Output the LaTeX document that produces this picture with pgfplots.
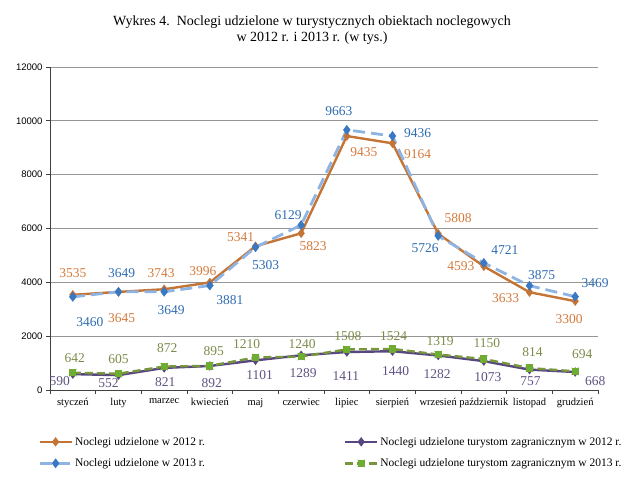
\documentclass[border=0pt]{standalone}
\usepackage{fontspec}
\setmainfont{Liberation Serif}
\setsansfont{Liberation Sans}
\usepackage{pgfplots}
\pgfplotsset{compat=1.18}
\definecolor{orL}{RGB}{196,116,52}
\definecolor{orT}{RGB}{212,122,60}
\definecolor{blL}{RGB}{142,180,227}
\definecolor{blM}{RGB}{58,120,196}
\definecolor{blT}{RGB}{46,108,178}
\definecolor{puL}{RGB}{88,70,128}
\definecolor{puT}{RGB}{96,82,130}
\definecolor{grL}{RGB}{120,150,60}
\definecolor{grM}{RGB}{128,160,58}
\definecolor{grT}{RGB}{122,140,72}
\definecolor{gridc}{RGB}{150,150,150}
\pgfdeclareplotmark{sqx}{%
 \pgfpathrectangle{\pgfqpoint{-\pgfplotmarksize}{-\pgfplotmarksize}}{\pgfqpoint{2\pgfplotmarksize}{2\pgfplotmarksize}}%
 \pgfusepath{fill}%
 \pgfpathmoveto{\pgfqpoint{-\pgfplotmarksize}{-\pgfplotmarksize}}\pgfpathlineto{\pgfqpoint{\pgfplotmarksize}{\pgfplotmarksize}}%
 \pgfpathmoveto{\pgfqpoint{-\pgfplotmarksize}{\pgfplotmarksize}}\pgfpathlineto{\pgfqpoint{\pgfplotmarksize}{-\pgfplotmarksize}}%
 \pgfusepath{stroke}}
\begin{document}
\begin{tikzpicture}
\useasboundingbox (0,0) rectangle (640pt,484pt);
\begin{axis}[
  at={(50pt,94pt)}, anchor=south west,
  scale only axis, width=548pt, height=323pt,
  xmin=-0.5, xmax=11.5, ymin=0, ymax=12000,
  scaled y ticks=false,
  axis x line*=bottom, axis y line*=left,
  axis line style={black!75, line width=0.8pt},
  xtick={0,...,11},
  xticklabels={styczeń,luty,marzec,kwiecień,maj,czerwiec,lipiec,sierpień,wrzesień,październik,listopad,grudzień},
  minor xtick={-0.5,0.5,...,11.5},
  major x tick style={draw=none},
  minor tick length=4pt, major tick length=4pt,
  tick align=outside,
  tick style={black!75, line width=0.8pt},
  ytick={0,2000,...,12000},
  ymajorgrids, grid style={gridc, line width=0.8pt},
  xticklabel style={font=\fontsize{10.5}{12}\selectfont, yshift=-1pt},
  yticklabel style={font=\sffamily\fontsize{9.5}{11}\selectfont},
  /pgf/number format/1000 sep={},
  /pgf/number format/assume math mode=true,
  clip=false,
  point meta=explicit symbolic,
  nodes near coords,
  visualization depends on={value \thisrow{dx}\as\ldx},
  visualization depends on={value \thisrow{dy}\as\ldy},
  every node near coord/.append style={anchor=center, xshift=\ldx pt, yshift=\ldy pt, font=\fontsize{13.5}{15}\selectfont, inner sep=0pt},
  legend columns=2,
  legend style={at={(axis description cs:-0.0219,-0.139)}, anchor=north west, draw=none, fill=none, inner sep=0pt,
    font=\fontsize{11.5}{13}\selectfont, row sep=8pt, nodes={inner sep=2pt}},
  legend cell align=left,
  legend image code/.code={\draw[mark repeat=2,mark phase=2,#1] plot coordinates {(0pt,0pt) (16pt,0pt) (32pt,0pt)};},
]
% 2012 total
\addplot[orL, line width=2.4pt, mark=diamond*, mark size=2.8pt, mark options={solid, fill=orL, draw=orL}, every node near coord/.append style={text=orT}]
 table[x=x,y=y,meta=y]{
x y dx dy
0 3535 0 22
1 3645 3 -26
2 3743 -3 16
3 3996 -7 11
4 5341 -15 9
5 5823 12 -13
6 9435 17 -16
7 9164 25 -11
8 5808 20 16
9 4593 -23 0
10 3633 -24 -6
11 3300 -6 -18
};
\addlegendentry{\makebox[267pt][l]{Noclegi udzielone w 2012 r.}}
% 2012 foreign
\addplot[puL, line width=2.4pt, mark=diamond*, mark size=2.8pt, mark options={solid, fill=puL, draw=puL}, every node near coord/.append style={text=puT}]
 table[x=x,y=y,meta=y]{
x y dx dy
0 590 -13 -7
1 552 -10 -8
2 821 1 -14
3 892 2 -17
4 1101 4 -15
5 1289 2 -18
6 1411 -1 -24
7 1440 3 -20
8 1282 -1 -19
9 1073 4 -16
10 757 1 -12
11 668 20 -9
};
\addlegendentry{Noclegi udzielone turystom zagranicznym w 2012 r.}
% 2013 total
\addplot[blL, line width=2.8pt, dash pattern=on 12pt off 6pt, mark=diamond*, mark size=4.6pt, mark options={solid, fill=blM, draw=blM, line width=0.4pt}, every node near coord/.append style={text=blT}]
 table[x=x,y=y,meta=y]{
x y dx dy
0 3460 17 -25
1 3649 3 19
2 3649 7 -18
3 3881 20 -15
4 5303 10 -18
5 6129 -13 10
6 9663 -8 19
7 9436 25 3
8 5726 -13 -12
9 4721 21 13
10 3875 12 11
11 3469 20 14
};
\addlegendentry{\makebox[267pt][l]{Noclegi udzielone w 2013 r.}}
% 2013 foreign
\addplot[grL, line width=2.4pt, dash pattern=on 8pt off 4pt, mark=sqx, mark size=3.6pt, mark options={solid, fill=grM, draw=green!40!grM, line width=0.7pt}, every node near coord/.append style={text=grT}]
 table[x=x,y=y,meta=y]{
x y dx dy
0 642 2 15
1 605 0 15
2 872 3 18
3 895 4 15
4 1210 -9 13
5 1240 1 13
6 1508 1 13
7 1524 1 13
8 1319 2 13
9 1150 3 16
10 814 3 16
11 694 7 17
};
\addlegendentry{Noclegi udzielone turystom zagranicznym w 2013 r.}
\end{axis}
\node[align=center, font=\fontsize{14}{16}\selectfont] at (312pt,454pt) {Wykres 4.\ \ Noclegi udzielone w turystycznych obiektach noclegowych\\w 2012 r. i 2013 r. (w tys.)};
\end{tikzpicture}
\end{document}
